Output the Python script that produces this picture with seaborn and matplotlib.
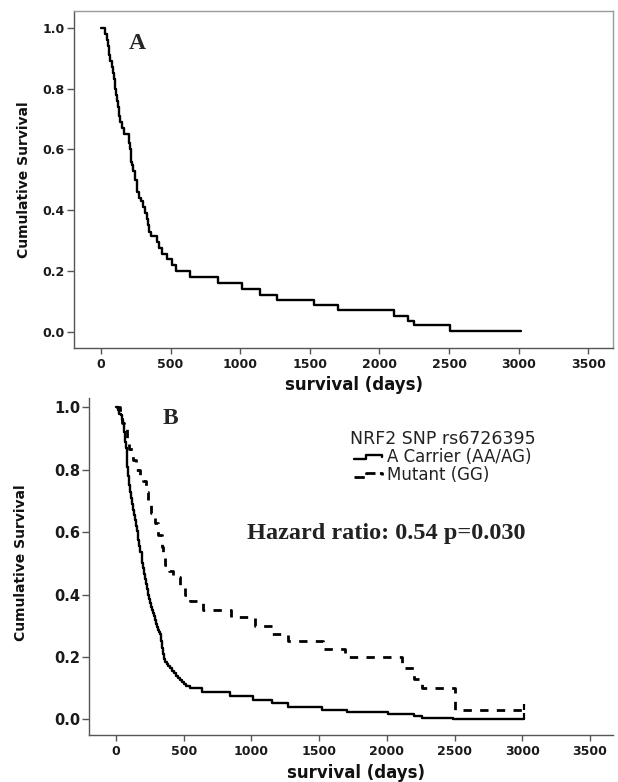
import matplotlib
matplotlib.use("Agg")
import matplotlib.pyplot as plt
import seaborn as sns
from matplotlib.lines import Line2D
from matplotlib.legend_handler import HandlerLine2D
from matplotlib import font_manager

# ---------------- data ----------------
# Panel A: all patients, Kaplan-Meier steps (day, cumulative survival)
timesA = [0, 28, 40, 48, 58, 66, 77, 84, 91, 98, 105, 112, 119, 130, 140, 150,
          162, 200, 205, 212, 219, 226, 233, 247, 255, 262, 276, 290, 304, 318,
          332, 340, 347, 359, 402, 420, 440, 474, 508, 540, 636, 838, 1014, 1142,
          1264, 1531, 1702, 2108, 2202, 2250, 2506, 3017]
survA = [1.0, 0.98, 0.96, 0.94, 0.91, 0.89, 0.87, 0.85, 0.83, 0.80, 0.78, 0.76,
         0.74, 0.71, 0.69, 0.67, 0.65, 0.62, 0.60, 0.58, 0.56, 0.55, 0.53, 0.50,
         0.48, 0.46, 0.44, 0.43, 0.41, 0.39, 0.37, 0.35, 0.33, 0.315, 0.295,
         0.275, 0.255, 0.24, 0.22, 0.20, 0.18, 0.16, 0.14, 0.12, 0.105, 0.088,
         0.072, 0.052, 0.035, 0.022, 0.004, 0.004]

# Panel B: A carrier (AA/AG)
timesB1 = [0, 12, 25, 35, 45, 55, 62, 68, 73, 78, 84, 90, 96, 102, 108, 115, 122,
           130, 137, 145, 152, 160, 166, 172, 180, 195, 202, 209, 216, 223, 230,
           238, 245, 252, 260, 267, 275, 282, 290, 297, 305, 312, 320, 326, 333,
           340, 348, 355, 365, 375, 384, 398, 413, 428, 442, 457, 471, 485, 500,
           520, 547, 633, 842, 1012, 1152, 1270, 1520, 1706, 2012, 2200, 2259,
           2491, 3013]
survB1 = [1.0, 0.99, 0.98, 0.975, 0.96, 0.95, 0.92, 0.89, 0.87, 0.84, 0.81, 0.78,
          0.75, 0.73, 0.71, 0.69, 0.67, 0.655, 0.64, 0.62, 0.605, 0.59, 0.575,
          0.555, 0.536, 0.50, 0.485, 0.467, 0.45, 0.435, 0.418, 0.40, 0.385,
          0.372, 0.36, 0.35, 0.34, 0.33, 0.318, 0.306, 0.297, 0.288, 0.28, 0.274,
          0.25, 0.23, 0.21, 0.193, 0.185, 0.178, 0.172, 0.164, 0.156, 0.148,
          0.14, 0.132, 0.126, 0.12, 0.114, 0.108, 0.102, 0.088, 0.075, 0.062,
          0.052, 0.041, 0.031, 0.025, 0.018, 0.011, 0.005, 0.001, 0.001]

# Panel B: Mutant (GG)
timesB2 = [0, 30, 45, 60, 79, 95, 125, 150, 175, 200, 220, 239, 260, 288, 313,
           337, 350, 362, 390, 423, 473, 510, 547, 645, 849, 1023, 1154, 1270,
           1532, 1692, 2113, 2200, 2259, 2506, 3013]
survB2 = [1.0, 0.98, 0.95, 0.93, 0.895, 0.865, 0.83, 0.80, 0.78, 0.765, 0.73,
          0.69, 0.66, 0.63, 0.59, 0.553, 0.525, 0.495, 0.475, 0.457, 0.43, 0.40,
          0.378, 0.352, 0.328, 0.30, 0.275, 0.25, 0.225, 0.20, 0.165, 0.13, 0.10,
          0.03, 0.03]

censor_times_B = [3013, 3013]
censor_surv_B = [0.001, 0.03]

legend_title = "NRF2 SNP rs6726395"
legend_labels = ["A Carrier (AA/AG)", "Mutant (GG)"]
xticks = [0, 500, 1000, 1500, 2000, 2500, 3000, 3500]
yticks = [0.0, 0.2, 0.4, 0.6, 0.8, 1.0]

# ---------------- style ----------------
sns.set_style("ticks")
plt.rcParams['font.family'] = ['DejaVu Sans']
plt.rcParams['font.weight'] = 'bold'

names = {f.name for f in font_manager.fontManager.ttflist}
if 'Liberation Sans Narrow' in names:
    ylab_family, ylab_size = ['Liberation Sans Narrow', 'DejaVu Sans'], 13.2
else:
    ylab_family, ylab_size = ['DejaVu Sans'], 10.0

spine_col = '#555555'

fig = plt.figure(figsize=(6.18, 7.82), dpi=100)
W, H = 618.0, 782.0


def add_ax(l, t, r, b):
    return fig.add_axes([l / W, 1 - b / H, (r - l) / W, (b - t) / H])


axA = add_ax(74, 10.7, 613, 348)
axB = add_ax(89.3, 398, 613, 735)

# Panel A curve
sns.lineplot(x=timesA, y=survA, drawstyle='steps-post', estimator=None, sort=False,
             color='black', lw=1.7, ax=axA)
# Panel B curves
sns.lineplot(x=timesB1, y=survB1, drawstyle='steps-post', estimator=None, sort=False,
             color='black', lw=1.7, ax=axB)
sns.lineplot(x=timesB2, y=survB2, drawstyle='steps-post', estimator=None, sort=False,
             color='black', lw=2.0, linestyle=(0, (3, 3)), ax=axB)
axB.plot(censor_times_B, censor_surv_B, linestyle='none', marker=2, markersize=4,
         markeredgewidth=1.6, color='black')

axA.set_xlim(-194, 3678)
axA.set_ylim(-0.053, 1.056)
axB.set_xlim(-197, 3670)
axB.set_ylim(-0.050, 1.030)

for ax, ytsize in ((axA, 9), (axB, 10.5)):
    ax.set_xticks(xticks)
    ax.set_yticks(yticks)
    ax.set_xticklabels([str(v) for v in xticks])
    ax.set_yticklabels([f"{v:.1f}" for v in yticks])
    ax.tick_params(axis='x', length=4, width=1, color=spine_col, pad=3.2,
                   labelsize=9, labelcolor='#1a1a1a')
    ax.tick_params(axis='y', length=5, width=1, color=spine_col, pad=1.5,
                   labelsize=ytsize, labelcolor='#1a1a1a')
    ax.set_xlabel("survival (days)", fontsize=12, fontweight='bold', color='#111111')
    ax.set_ylabel("Cumulative Survival", family=ylab_family, fontsize=ylab_size,
                  fontweight='bold', color='#111111')
    for s in ('left', 'bottom'):
        ax.spines[s].set_color(spine_col)
        ax.spines[s].set_linewidth(1.0)

axA.xaxis.set_label_coords(0.52, -0.083)
axB.xaxis.set_label_coords(0.51, -0.085)
axA.yaxis.set_label_coords(-0.08, 0.5)
axB.yaxis.set_label_coords(-0.117, 0.51)

# Panel A keeps a light full frame
for s in ('top', 'right'):
    axA.spines[s].set_visible(True)
    axA.spines[s].set_color('#9a9a9a')
    axA.spines[s].set_linewidth(1.0)
# Panel B: only left and bottom
for s in ('top', 'right'):
    axB.spines[s].set_visible(False)

# Panel letters
axA.text(0.117, 0.904, "A", transform=axA.transAxes, ha='center', va='center',
         family=['Liberation Serif', 'DejaVu Serif'], fontweight='bold', fontsize=17)
axB.text(0.154, 0.938, "B", transform=axB.transAxes, ha='center', va='center',
         family=['Liberation Serif', 'DejaVu Serif'], fontweight='bold', fontsize=17)

# Hazard ratio annotation
axB.text(0.567, 0.599, "Hazard ratio: 0.54 p=0.030", transform=axB.transAxes,
         ha='center', va='center', family=['Liberation Serif', 'DejaVu Serif'],
         fontweight='bold', fontsize=17.5, color='#222222')


# Legend with small step-shaped handles
class StepHandler(HandlerLine2D):
    def create_artists(self, legend, orig_handle, xdescent, ydescent, width,
                       height, fontsize, trans):
        x0 = -xdescent
        y0 = -ydescent
        xs = [x0, x0 + 0.38 * width, x0 + 0.38 * width, x0 + 0.92 * width,
              x0 + 0.92 * width]
        ys = [y0 + 0.25 * height, y0 + 0.25 * height, y0 + 0.62 * height,
              y0 + 0.62 * height, y0 + 0.40 * height]
        ln = Line2D(xs, ys, color=orig_handle.get_color(),
                    linestyle=orig_handle.get_linestyle(),
                    linewidth=orig_handle.get_linewidth())
        ln.set_transform(trans)
        return [ln]


h1 = Line2D([], [], color='black', lw=1.7)
h2 = Line2D([], [], color='black', lw=2.0, linestyle=(0, (2, 2)))
leg = axB.legend([h1, h2], legend_labels, title=legend_title,
                 handler_map={Line2D: StepHandler()},
                 loc='upper left', bbox_to_anchor=(0.498, 0.905), frameon=False,
                 borderpad=0, borderaxespad=0, handlelength=1.8, handletextpad=0.15,
                 labelspacing=0.0, fontsize=12, title_fontsize=12.5)
for t in leg.get_texts():
    t.set_fontweight('normal')
    t.set_color('#222222')
leg.get_title().set_fontweight('normal')
leg.get_title().set_color('#222222')

fig.savefig("out.png", dpi=100)
